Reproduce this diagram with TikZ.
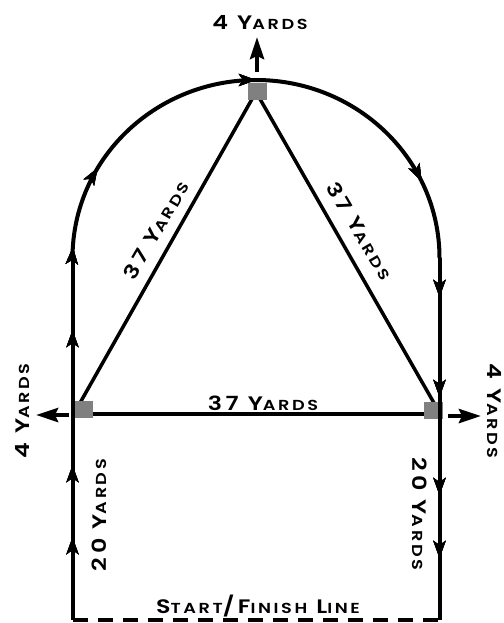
\documentclass[tikz,border=0pt]{standalone}
\usepackage{fontspec}
\newfontfamily\lblfont[LetterSpace=18,FakeStretch=1.22]{Poppins SemiBold}
\usetikzlibrary{arrows.meta,decorations.markings}
\definecolor{sqgray}{RGB}{128,128,128}
\newcommand\smc[1]{{\fontsize{14.5}{14.5}\selectfont #1}}
\begin{document}
\begin{tikzpicture}[x=1pt,y=-1pt,
  track/.style={line width=4pt},
  tri/.style={line width=3.5pt},
  sq/.style={fill=sqgray,minimum width=19pt,minimum height=17pt,inner sep=0pt},
  lbl/.style={font=\lblfont\fontsize{19.5}{19.5}\selectfont,inner sep=0pt},
  tip/.style={decoration={markings,mark=at position #1 with {\arrow{Stealth[length=17pt,width=12pt,inset=4pt]}}},postaction=decorate},
  bigarrow/.style={line width=4pt,-{Stealth[length=22pt,width=14pt,inset=3pt]}}
]
\useasboundingbox (0,0) rectangle (503,623);
% corners
\coordinate (apex) at (256,92);
\coordinate (bl) at (76,410);
\coordinate (br) at (438,410);
\coordinate (hl) at (84,414);
\coordinate (hr) at (433,414);
% triangle
\draw[tri] (bl) -- (apex) -- (br);
\draw[tri] (hl) -- (hr);
% squares
\node[sq] (topsq) at (257,91.5) {};
\node[sq] (leftsq) at (83.5,409) {};
\node[sq] (rightsq) at (433.5,410.5) {};
% track
\coordinate (s0) at (72.5,620);
\coordinate (s1) at (72.5,258);
\coordinate (s2) at (439.5,258);
\coordinate (s3) at (439.5,620);
\draw[track,tip=0.229,tip=0.428,tip=0.801] (s0) -- (s1);
\draw[track,tip=11pt,tip=0.167,tip=0.5,tip=0.86] (s1) arc[start angle=180,end angle=0,x radius=183.5pt,y radius=178pt];
\draw[track,tip=0.108,tip=0.384,tip=0.655,tip=0.829] (s2) -- (s3);
\draw[track,dash pattern=on 15pt off 10pt] (s0) -- (s3);
% direction arrows
\coordinate (ta0) at (257,72);
\coordinate (ta1) at (257,37);
\coordinate (la0) at (69,415);
\coordinate (la1) at (36,415);
\coordinate (ra0) at (448,416);
\coordinate (ra1) at (481,416);
\draw[bigarrow] (ta0) -- (ta1);
\draw[bigarrow] (la0) -- (la1);
\draw[bigarrow] (ra0) -- (ra1);
% labels
\node[lbl] (ltop) at (260,22.5) {4 Y\smc{ARDS}};
\node[lbl,rotate=90] (lleft) at (22.5,411) {4 Y\smc{ARDS}};
\node[lbl,rotate=-90] (lright) at (494,411) {4 Y\smc{ARDS}};
\node[lbl] (lbase) at (263,403) {37 Y\smc{ARDS}};
\node[lbl,rotate=59.5] (ldl) at (156,230) {37 Y\smc{ARDS}};
\node[lbl,rotate=-59.5] (ldr) at (360,231) {37 Y\smc{ARDS}};
\node[lbl,rotate=90] (l20l) at (99,515) {20 Y\smc{ARDS}};
\node[lbl,rotate=-90] (l20r) at (420,514) {20 Y\smc{ARDS}};
\node[lbl] (lsf) at (258,606) {S\smc{TART}/F\smc{INISH} L\smc{INE}};
\end{tikzpicture}
\end{document}
